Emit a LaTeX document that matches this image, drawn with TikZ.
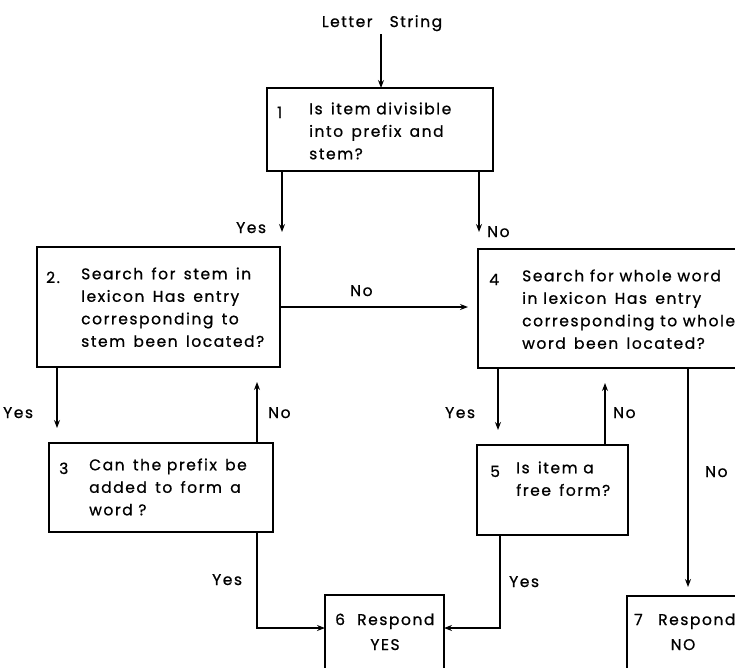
\documentclass[tikz,border=0pt]{standalone}
\usepackage{fontspec}
\setmainfont[LetterSpace=10,FakeBold=0.8]{Poppins}
\usetikzlibrary{arrows.meta}
\begin{document}
\begin{tikzpicture}[x=1pt,y=-1pt,
  box/.style={draw, line width=1.3pt, inner sep=0pt, outer sep=0pt, anchor=north west},
  txt/.style={font=\fontsize{15.5}{22.5}\selectfont, inner sep=0pt, anchor=north west,
    yshift=15.75pt, align=left, execute at begin node=\strut},
  one/.style={font=\fontsize{15.5}{22.5}\selectfont, inner sep=0pt, anchor=base west},
  lbl/.style={font=\fontsize{15.5}{16}\selectfont, inner sep=0pt, anchor=base west},
  arr/.style={line width=1.1pt, -{Stealth[length=8pt,width=6pt]}}]
\useasboundingbox (0,0) rectangle (735,667);
\clip (0,0) rectangle (735,667);

% input
\node[lbl, anchor=base] (in) at (382,27) {Letter\hspace{1.1em}String};
\coordinate (start) at (381,34);

% decision boxes
\node[box, minimum width=226pt, minimum height=83pt] (b1) at (267,88) {};
\node[one] (n1) at (277,118) {1};
\node[txt] (t1) at (309,118) {Is \,item divisible\\into \,prefix \,and\\stem?};

\node[box, minimum width=243pt, minimum height=120pt] (b2) at (37,247) {};
\node[one] (n2) at (46,283) {2.};
\node[txt] (t2) at (81,283) {Search \,for \,stem \,in\\lexicon \,Has \,entry\\corresponding \,to\\stem \,been \,located?};

\node[box, minimum width=224pt, minimum height=89pt] (b3) at (49,443) {};
\node[one] (n3) at (59,474) {3};
\node[txt] (t3) at (89,474) {Can \,the prefix \,be\\added \,to \,form \,a\\word ?};

\node[box, minimum width=300pt, minimum height=119pt] (b4) at (478,249) {};
\node[one] (n4) at (489,285) {4};
\node[txt] (t4) at (522,285) {Search for whole word\\in lexicon \,Has \,entry\\corresponding to whole\\word \,been \,located?};

\node[box, minimum width=151pt, minimum height=90pt] (b5) at (477,445) {};
\node[one] (n5) at (490,477) {5};
\node[txt] (t5) at (516,477) {Is \,item a\\free \,form?};

% responses
\node[box, minimum width=119pt, minimum height=100pt] (b6) at (325,595) {};
\node[one] (n6) at (335,625) {6};
\node[one] (t6) at (357,625) {Respond};
\node[one, anchor=base] (y6) at (385,650) {YES};

\node[box, minimum width=140pt, minimum height=100pt] (b7) at (627,596) {};
\node[one] (n7) at (634,625) {7};
\node[one] (t7) at (658,625) {Respond};
\node[one, anchor=base] (y7) at (683,650) {NO};

% connectors
\draw[arr] (start) -- (start |- b1.north);
\draw[arr, shorten >=15pt] ([xshift=15pt]b1.south west) -- ([xshift=15pt]b1.south west |- b2.north);
\draw[arr, shorten >=17pt] ([xshift=-14pt]b1.south east) -- ([xshift=-14pt]b1.south east |- b4.north);
\draw[arr, shorten >=10pt] (b2.east) -- (b2.east -| b4.west);
\draw[arr, shorten >=15pt] ([xshift=20pt]b2.south west) -- ([xshift=20pt]b2.south west |- b3.north);
\draw[arr, shorten >=15pt] ([xshift=-16pt]b3.north east) -- ([xshift=-16pt]b3.north east |- b2.south);
\draw[arr, shorten >=15pt] ([xshift=20pt]b4.south west) -- ([xshift=20pt]b4.south west |- b5.north);
\draw[arr, shorten >=15pt] ([xshift=-23pt]b5.north east) -- ([xshift=-23pt]b5.north east |- b4.south);
\draw[arr, shorten >=9pt] ([xshift=210pt]b4.south west) -- ([xshift=210pt]b4.south west |- b7.north);
\draw[arr] ([xshift=-16pt]b3.south east) |- ([yshift=-33pt]b6.north west);
\draw[arr] ([xshift=23pt]b5.south west) |- ([yshift=-33pt]b6.north east);

% branch labels
\node[lbl] (l1) at (236,233) {Yes};
\node[lbl] (l2) at (487,237) {No};
\node[lbl] (l3) at (350,296) {No};
\node[lbl] (l4) at (3,418) {Yes};
\node[lbl] (l5) at (268,418) {No};
\node[lbl] (l6) at (212,585) {Yes};
\node[lbl] (l7) at (445,418) {Yes};
\node[lbl] (l8) at (613,418) {No};
\node[lbl] (l9) at (705,477) {No};
\node[lbl] (l10) at (509,587) {Yes};
\end{tikzpicture}
\end{document}
